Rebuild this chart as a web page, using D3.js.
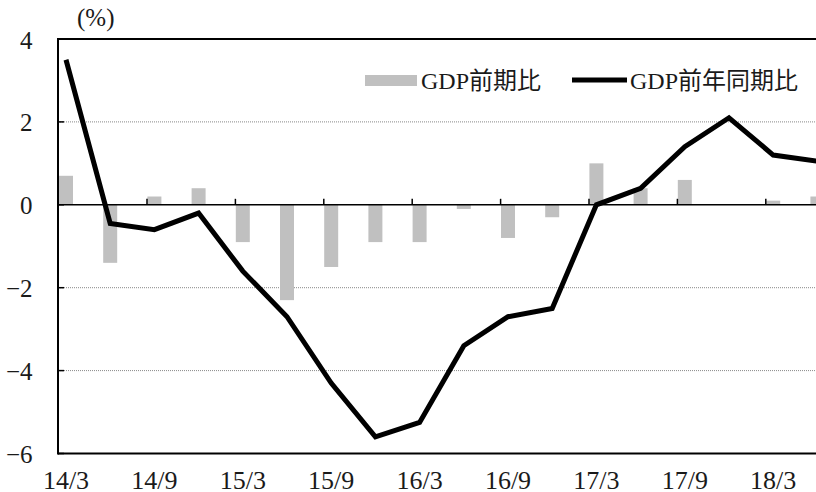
<!DOCTYPE html>
<html>
<head>
<meta charset="utf-8">
<script src="https://cdn.jsdelivr.net/npm/d3@7"></script>
<style>
  html, body { margin: 0; padding: 0; background: #fff; }
  svg { display: block; }
  text { font-family: "Liberation Serif", "Times New Roman", "DejaVu Serif", serif; fill: #1a1a1a; }
  text.cjk { font-family: "Liberation Serif", "Noto Sans CJK JP", serif; }
</style>
</head>
<body>
<svg id="chart" width="816" height="492"></svg>
<script>
const categories = ["14/3","14/6","14/9","14/12","15/3","15/6","15/9","15/12",
                    "16/3","16/6","16/9","16/12","17/3","17/6","17/9","17/12","18/3","18/6"];
const qoq = [0.7,-1.4,0.2,0.4,-0.9,-2.3,-1.5,-0.9,-0.9,-0.1,-0.8,-0.3,1.0,0.4,0.6,0.0,0.1,0.2];
const yoy = [3.5,-0.45,-0.6,-0.2,-1.6,-2.7,-4.3,-5.6,-5.25,-3.4,-2.7,-2.5,0.0,0.4,1.4,2.1,1.2,1.05];
const xTickLabels = ["14/3","14/9","15/3","15/9","16/3","16/9","17/3","17/9","18/3"];
const yTicks = [4,2,0,-2,-4,-6];
const gridValues = [2,-2,-4];
const seriesNames = ["GDP前期比","GDP前年同期比"];
const unitLabel = "(%)";

const svg = d3.select("#chart");
const W = 816, H = 492;
const plotLeft = 58, plotTop = 39, plotBottom = 453.5;

const x = d3.scalePoint().domain(categories).range([66, 66 + 17 * 44.2]);
const y = d3.scaleLinear().domain([-6, 4]).range([plotBottom, plotTop]);
const fmt = v => v < 0 ? "\u2212" + Math.abs(v) : String(v);

// gridlines
svg.append("g").selectAll("line").data(gridValues).join("line")
  .attr("x1", plotLeft).attr("x2", W)
  .attr("y1", d => y(d)).attr("y2", d => y(d))
  .attr("stroke", "#888").attr("stroke-width", 1).attr("stroke-dasharray", "1,1");

// bars
const bw = 14;
svg.append("g").selectAll("rect").data(categories).join("rect")
  .attr("x", (d) => x(d) - bw / 2)
  .attr("width", bw)
  .attr("y", (d, i) => Math.min(y(qoq[i]), y(0)))
  .attr("height", (d, i) => Math.abs(y(qoq[i]) - y(0)))
  .attr("fill", "#c0c0c0");

// frame: top, bottom, left
svg.append("line").attr("x1", plotLeft).attr("x2", W).attr("y1", plotTop).attr("y2", plotTop)
  .attr("stroke", "#000").attr("stroke-width", 2);
svg.append("line").attr("x1", plotLeft).attr("x2", W).attr("y1", plotBottom).attr("y2", plotBottom)
  .attr("stroke", "#000").attr("stroke-width", 2);
svg.append("line").attr("x1", plotLeft).attr("x2", plotLeft).attr("y1", plotTop - 1).attr("y2", plotBottom + 1)
  .attr("stroke", "#000").attr("stroke-width", 2);

// zero axis
svg.append("line").attr("x1", plotLeft).attr("x2", W).attr("y1", y(0)).attr("y2", y(0))
  .attr("stroke", "#000").attr("stroke-width", 1.5);

// x ticks on zero line (pointing up)
svg.append("g").selectAll("line").data(categories.filter((c, i) => i % 2 === 0 && i > 0)).join("line")
  .attr("x1", d => x(d) - 7.4).attr("x2", d => x(d) - 7.4)
  .attr("y1", y(0)).attr("y2", y(0) - 6)
  .attr("stroke", "#000").attr("stroke-width", 1.5);

// y ticks (inside)
svg.append("g").selectAll("line").data(yTicks).join("line")
  .attr("x1", plotLeft).attr("x2", plotLeft + 6)
  .attr("y1", d => y(d)).attr("y2", d => y(d))
  .attr("stroke", "#000").attr("stroke-width", 1.5);

// y labels
svg.append("g").selectAll("text").data(yTicks).join("text")
  .attr("x", 32.5).attr("y", d => y(d) + 9.5)
  .attr("text-anchor", "end").attr("font-size", 25)
  .text(fmt);

// x labels
svg.append("g").selectAll("text").data(xTickLabels).join("text")
  .attr("x", d => x(d)).attr("y", 488.5)
  .attr("text-anchor", "middle").attr("font-size", 26)
  .text(d => d);

// unit
svg.append("text").attr("x", 77).attr("y", 26).attr("font-size", 25).text(unitLabel);

// line
const line = d3.line().x((d, i) => x(categories[i])).y(d => y(d));
svg.append("path").datum(yoy).attr("d", line)
  .attr("fill", "none").attr("stroke", "#000").attr("stroke-width", 5)
  .attr("stroke-linejoin", "miter");

// legend
svg.append("rect").attr("x", 365).attr("y", 75).attr("width", 52).attr("height", 11).attr("fill", "#c0c0c0");
svg.append("text").attr("class", "cjk").attr("x", 421).attr("y", 88.5).attr("font-size", 24).text(seriesNames[0]);
svg.append("line").attr("x1", 572).attr("x2", 627).attr("y1", 80).attr("y2", 80)
  .attr("stroke", "#000").attr("stroke-width", 5);
svg.append("text").attr("class", "cjk").attr("x", 630).attr("y", 88.5).attr("font-size", 24).text(seriesNames[1]);
</script>
</body>
</html>
